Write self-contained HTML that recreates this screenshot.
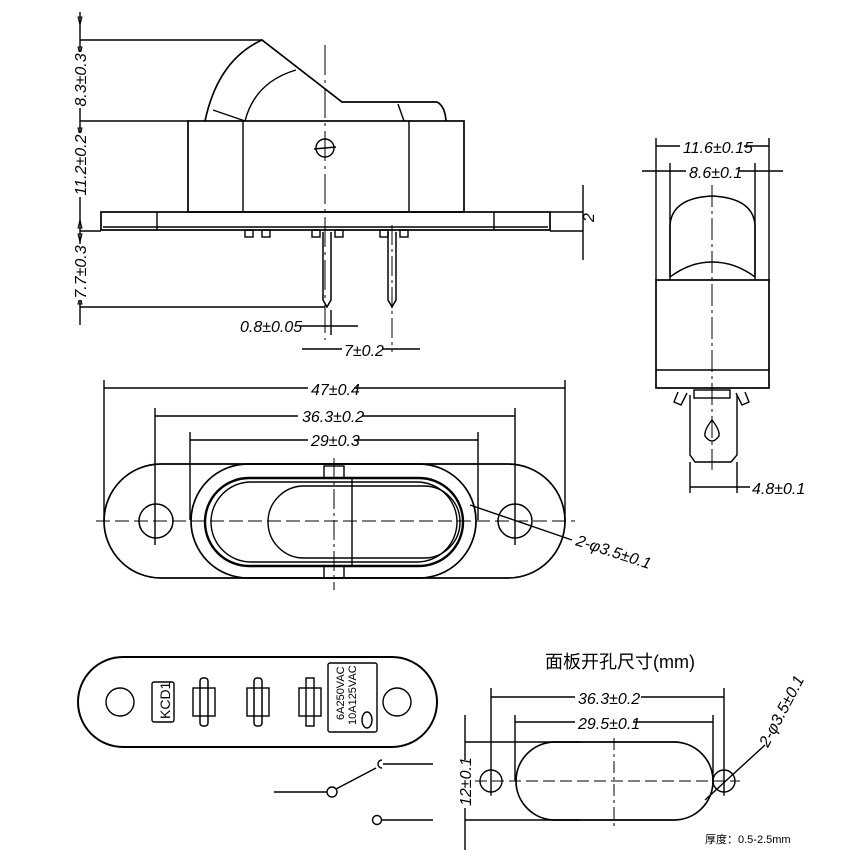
<!DOCTYPE html>
<html><head><meta charset="utf-8"><style>
html,body{margin:0;padding:0;background:#fff;}
svg{display:block;}
text{font-family:"Liberation Sans","Noto Sans CJK SC",sans-serif;fill:#000;}
.i{font-style:italic;font-size:16px;font-family:"Liberation Sans Narrow","Liberation Sans",sans-serif;}
</style></head><body>
<svg width="856" height="864" viewBox="0 0 856 864" xmlns="http://www.w3.org/2000/svg" fill="none" stroke="#000" stroke-width="1.4">
<!-- ===== TOP (side) VIEW ===== -->
<line x1="80" y1="12" x2="80" y2="325"/>
<line x1="80" y1="40" x2="262" y2="40"/>
<line x1="80" y1="121" x2="188" y2="121"/>
<line x1="80" y1="231" x2="101" y2="231"/>
<line x1="80" y1="307" x2="325" y2="307"/>
<g stroke-width="1"><path d="M80 25 l-2 -8 h4z M80 55 l-2 -8 h4z M80 136 l-2 -8 h4z M80 220 l-2 8 h4z M80 242 l-2 -8 h4z M80 296 l-2 8 h4z"/></g>
<rect x="72" y="52" width="16" height="56" fill="#fff" stroke="none"/>
<rect x="72" y="133" width="16" height="64" fill="#fff" stroke="none"/>
<rect x="72" y="244" width="16" height="56" fill="#fff" stroke="none"/>
<text class="i" transform="translate(86,80) rotate(-90)" text-anchor="middle" stroke="none">8.3±0.3</text>
<text class="i" transform="translate(86,165) rotate(-90)" text-anchor="middle" stroke="none">11.2±0.2</text>
<text class="i" transform="translate(86,272) rotate(-90)" text-anchor="middle" stroke="none">7.7±0.3</text>
<!-- rocker -->
<path d="M205 121 Q218 60 262 40 L342 102 L437 102 Q445 106 446 121" stroke-width="1.7"/>
<path d="M213 110 L245 121 M245 121 Q255 82 296 70 M398 104 L404 121"/>
<!-- body -->
<rect x="188" y="121" width="276" height="91" stroke-width="1.7"/>
<line x1="243" y1="121" x2="243" y2="212"/>
<line x1="409" y1="121" x2="409" y2="212"/>
<circle cx="325" cy="148" r="9"/>
<line x1="314" y1="149" x2="336" y2="147"/>
<line x1="325" y1="45" x2="325" y2="340" stroke-dasharray="30,5,3,5" stroke-width="1"/>
<!-- base plate -->
<rect x="101" y="212" width="449" height="18" stroke-width="1.7"/>
<line x1="103" y1="227" x2="548" y2="227"/>
<line x1="157" y1="212" x2="157" y2="230"/><line x1="494" y1="212" x2="494" y2="230"/>
<rect x="245" y="230" width="8" height="7"/><rect x="262" y="230" width="8" height="7"/>
<rect x="312" y="230" width="8" height="7"/><rect x="335" y="230" width="8" height="7"/>
<rect x="380" y="230" width="8" height="7"/><rect x="400" y="230" width="8" height="7"/>
<!-- pins -->
<path d="M323 232 V300 L327 307 L331 300 V232" stroke-width="1.5"/>
<path d="M388 232 V300 L392 307 L396 300 V232" stroke-width="1.5"/>
<line x1="392" y1="225" x2="392" y2="352" stroke-dasharray="20,4,3,4" stroke-width="1"/>
<line x1="331" y1="310" x2="331" y2="335"/>
<line x1="300" y1="326" x2="358" y2="326"/>
<line x1="302" y1="349" x2="420" y2="349"/>
<text class="i" x="240" y="332" stroke="none">0.8±0.05</text>
<rect x="342" y="340" width="40" height="16" fill="#fff" stroke="none"/>
<text class="i" x="344" y="356" stroke="none">7±0.2</text>
<line x1="583" y1="185" x2="583" y2="260"/>
<line x1="550" y1="212" x2="583" y2="212"/>
<line x1="550" y1="231" x2="583" y2="231"/>
<text class="i" transform="translate(594,222) rotate(-90)" stroke="none">2</text>
<!-- ===== RIGHT VIEW ===== -->
<line x1="656" y1="138" x2="656" y2="280"/><line x1="769" y1="138" x2="769" y2="280"/>
<line x1="670" y1="163" x2="670" y2="280"/><line x1="755" y1="163" x2="755" y2="280"/>
<line x1="656" y1="146" x2="769" y2="146"/>
<line x1="642" y1="171" x2="783" y2="171"/>
<rect x="680" y="139" width="64" height="14" fill="#fff" stroke="none"/>
<rect x="686" y="164" width="52" height="14" fill="#fff" stroke="none"/>
<text class="i" x="683" y="153" stroke="none">11.6±0.15</text>
<text class="i" x="689" y="178" stroke="none">8.6±0.1</text>
<path d="M670 277 V225 Q672 198 712 196 Q753 198 755 225 V277" stroke-width="1.5"/>
<path d="M670 277 Q690 262 712 262 Q735 262 755 277"/>
<rect x="656" y="280" width="113" height="108" stroke-width="1.7"/>
<line x1="656" y1="370" x2="769" y2="370"/>
<line x1="712" y1="185" x2="712" y2="470" stroke-dasharray="22,4,3,4" stroke-width="1"/>
<path d="M678 392 l-4 10 l7 3 l6 -12 M745 392 l4 10 l-7 3 l-6 -12"/>
<rect x="694" y="390" width="36" height="8"/>
<path d="M690 395 V455 L695 462 H731 L737 455 V395"/>
<path d="M712 420 Q704 430 705 436 Q712 446 719 436 Q720 430 712 420z"/>
<line x1="690" y1="462" x2="690" y2="493"/><line x1="737" y1="462" x2="737" y2="493"/>
<line x1="690" y1="487" x2="750" y2="487"/>
<text class="i" x="752" y="494" stroke="none">4.8±0.1</text>
<!-- ===== FRONT VIEW ===== -->
<line x1="104" y1="380" x2="104" y2="522"/><line x1="565" y1="380" x2="565" y2="522"/>
<line x1="155" y1="408" x2="155" y2="545"/><line x1="515" y1="408" x2="515" y2="545"/>
<line x1="190" y1="432" x2="190" y2="520"/><line x1="478" y1="432" x2="478" y2="520"/>
<line x1="104" y1="388" x2="565" y2="388"/>
<line x1="155" y1="416" x2="515" y2="416"/>
<line x1="190" y1="440" x2="478" y2="440"/>
<rect x="308" y="380" width="46" height="16" fill="#fff" stroke="none"/>
<rect x="298" y="408" width="64" height="16" fill="#fff" stroke="none"/>
<rect x="308" y="432" width="46" height="16" fill="#fff" stroke="none"/>
<text class="i" x="311" y="395" stroke="none">47±0.4</text>
<text class="i" x="302" y="422" stroke="none">36.3±0.2</text>
<text class="i" x="311" y="446" stroke="none">29±0.3</text>
<rect x="104" y="464" width="461" height="114" rx="57" stroke-width="1.7"/>
<circle cx="156" cy="521" r="17" stroke-width="1.5"/><circle cx="515" cy="521" r="17" stroke-width="1.5"/>
<rect x="191" y="464" width="285" height="114" rx="57" stroke-width="1.7"/>
<rect x="205" y="478" width="258" height="88" rx="44" stroke-width="2.4"/>
<rect x="211" y="482" width="246" height="80" rx="40"/>
<rect x="268" y="486" width="192" height="72" rx="36"/>
<line x1="352" y1="478" x2="352" y2="566"/>
<rect x="324" y="466" width="20" height="12"/><rect x="324" y="566" width="20" height="12"/>
<line x1="96" y1="521" x2="575" y2="521" stroke-dasharray="14,5" stroke-width="1"/>
<line x1="334" y1="458" x2="334" y2="590" stroke-dasharray="20,4,3,4" stroke-width="1"/>
<line x1="470" y1="505" x2="572" y2="540"/>
<text class="i" transform="translate(575,545) rotate(18)" stroke="none">2-φ3.5±0.1</text>
<!-- ===== BOTTOM VIEW ===== -->
<rect x="78" y="657" width="359" height="90" rx="45" stroke-width="2"/>
<circle cx="120" cy="702" r="14"/><circle cx="397" cy="702" r="14"/>
<rect x="152" y="682" width="22" height="40" rx="2"/>
<text transform="translate(170,719) rotate(-90)" stroke="none" font-size="14">KCD1</text>
<g>
<rect x="193" y="688" width="22" height="28"/><rect x="200" y="678" width="8" height="48" rx="3" stroke-width="1.5"/>
<rect x="247" y="688" width="22" height="28"/><rect x="254" y="678" width="8" height="48" rx="3" stroke-width="1.5"/>
<rect x="299" y="688" width="22" height="28"/><rect x="306" y="678" width="8" height="48"/>
</g>
<rect x="328" y="663" width="49" height="69" rx="2"/>
<text transform="translate(344,720) rotate(-90)" stroke="none" font-size="11">6A250VAC</text>
<text transform="translate(356,725) rotate(-90)" stroke="none" font-size="11">10A125VAC</text>
<ellipse cx="367" cy="720" rx="5" ry="8"/>
<!-- switch symbol -->
<line x1="274" y1="792" x2="327" y2="792" stroke-width="1.5"/>
<circle cx="332" cy="792" r="5"/>
<line x1="336" y1="789" x2="376" y2="768" stroke-width="1.5"/>
<path d="M382 760 A4 4 0 1 0 382 768"/>
<line x1="383" y1="764" x2="433" y2="764" stroke-width="1.5"/>
<circle cx="377" cy="820" r="4.5"/>
<line x1="382" y1="820" x2="433" y2="820" stroke-width="1.5"/>
<!-- ===== PANEL CUTOUT ===== -->
<text x="545" y="668" stroke="none" font-size="18" font-family="'Noto Serif CJK SC','Liberation Serif',serif">面板开孔尺寸(mm)</text>
<line x1="491" y1="688" x2="491" y2="795"/><line x1="724" y1="688" x2="724" y2="795"/>
<line x1="515" y1="715" x2="515" y2="781"/><line x1="713" y1="715" x2="713" y2="781"/>
<line x1="491" y1="697" x2="724" y2="697"/>
<line x1="515" y1="722" x2="713" y2="722"/>
<rect x="575" y="690" width="66" height="15" fill="#fff" stroke="none"/>
<rect x="575" y="715" width="58" height="15" fill="#fff" stroke="none"/>
<text class="i" x="578" y="704" stroke="none">36.3±0.2</text>
<text class="i" x="578" y="729" stroke="none">29.5±0.1</text>
<rect x="516" y="742" width="197" height="78" rx="39" stroke-width="1.7"/>
<circle cx="491" cy="781" r="11"/><circle cx="724" cy="781" r="11"/>
<line x1="475" y1="781" x2="740" y2="781" stroke-dasharray="12,5" stroke-width="1"/>
<line x1="614" y1="738" x2="614" y2="826" stroke-dasharray="12,4,3,4" stroke-width="1"/>
<line x1="491" y1="766" x2="491" y2="796" stroke-width="1"/>
<line x1="724" y1="766" x2="724" y2="796" stroke-width="1"/>
<line x1="465" y1="715" x2="465" y2="850"/>
<line x1="465" y1="742" x2="580" y2="742"/>
<line x1="465" y1="820" x2="580" y2="820"/>
<rect x="458" y="760" width="14" height="48" fill="#fff" stroke="none"/>
<text class="i" transform="translate(471,806) rotate(-90)" stroke="none">12±0.1</text>
<line x1="705" y1="800" x2="765" y2="745"/>
<text class="i" transform="translate(768,748) rotate(-62)" stroke="none">2-φ3.5±0.1</text>
<text x="705" y="843" stroke="none" font-size="11" font-family="'Noto Serif CJK SC','Liberation Serif',serif">厚度：0.5-2.5mm</text>
</svg>
</body></html>
